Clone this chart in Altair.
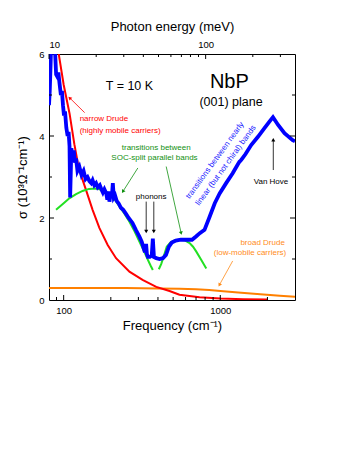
import math
import altair as alt
import pandas as pd

# ---------------- data ----------------
blue_freq = [80.6, 81.5, 82.3, 83.3, 85.5, 87.5, 88.5, 89.5, 91, 92.5, 94, 96, 97.5, 99,
             100.5, 102, 104, 106, 107.5, 109, 110, 111, 112, 114, 116, 118, 120, 122.5,
             126, 130, 134, 138, 142, 146, 150, 153, 157, 161, 165, 170, 174, 178, 182,
             187, 190, 193, 196, 200, 203, 206, 209, 213, 218, 225, 232, 240, 250, 260,
             275, 290, 304, 315, 328, 333, 336, 340, 345, 355, 365, 371, 377, 390, 410,
             430, 450, 470, 490, 520, 560, 610, 660, 700, 740, 793, 855, 922, 991, 1090,
             1200, 1290, 1325, 1350, 1380, 1450, 1575, 1740, 1915, 2060, 2170, 2340, 2570,
             2900, 3000]
blue_sigma = [4.75, 5.1, 5.6, 6.3, 6.4, 6.3, 5.9, 5.5, 5.45, 5.55, 5.3, 5.0, 5.1, 4.75,
              4.5, 4.6, 4.2, 4.0, 4.1, 3.75, 2.5, 3.1, 3.7, 3.5, 3.65, 3.35, 3.45, 3.15,
              3.25, 3.05, 3.15, 2.95, 3.0, 2.9, 2.85, 2.92, 2.8, 2.85, 2.75, 2.8, 2.7, 2.62, 2.7,
              2.6, 2.45, 2.65, 2.4, 2.6, 2.5, 2.85, 2.5, 2.55, 2.42, 2.35, 2.25, 2.2, 2.1, 2.0,
              1.88, 1.7, 1.55, 1.42, 1.2, 1.2, 1.37, 1.12, 1.05, 1.05, 1.08, 1.5, 1.05, 1.02, 1.0,
              1.02, 1.1, 1.3, 1.4, 1.45, 1.47, 1.47, 1.47, 1.55, 1.63, 1.71, 2.03, 2.36, 2.6, 2.85,
              3.09, 3.3, 3.37, 3.4, 3.45, 3.56, 3.78, 3.98, 4.19, 4.35, 4.46, 4.27, 4.07,
              3.9, 3.87]

red_freq = [93, 100, 109, 117, 125, 139, 153, 169, 191, 216, 263, 319, 390, 474, 549, 737,
            1000, 1400, 2000]
red_sigma = [6.0, 5.25, 4.55, 3.8, 3.2, 2.68, 2.2, 1.76, 1.34, 1.02, 0.69, 0.49, 0.32, 0.22,
             0.13, 0.07, 0.035, 0.02, 0.01]

green1_freq = [89.4, 100, 108.7, 120, 132, 145, 161, 178, 196, 210, 227, 245, 263, 283, 305,
               325, 345, 360, 371]
green1_sigma = [2.2, 2.36, 2.48, 2.58, 2.66, 2.71, 2.72, 2.68, 2.6, 2.47, 2.28, 2.1, 1.91,
                1.68, 1.42, 1.2, 0.98, 0.83, 0.73]

green2_freq = [405, 420, 440, 455, 480, 510, 549, 590, 637, 670, 703, 755, 814]
green2_sigma = [0.75, 0.88, 1.12, 1.3, 1.4, 1.45, 1.47, 1.46, 1.39, 1.3, 1.18, 0.98, 0.77]

orange_freq = [80.6, 150, 250, 400, 550, 700, 850, 1000, 1300, 1800, 2400, 3000]
orange_sigma = [0.29, 0.29, 0.29, 0.28, 0.275, 0.26, 0.245, 0.22, 0.185, 0.14, 0.105, 0.08]

freq_major_ticks = [100, 1000]
freq_minor_ticks = [90, 200, 300, 400, 500, 600, 700, 800, 900, 2000]
mev_major_ticks = [10, 100]
mev_minor_ticks = [20, 30, 40, 50, 60, 70, 80, 90, 200, 300]
sigma_major_ticks = [2, 4]
sigma_minor_ticks = [1, 3, 5]
sigma_label_values = [0, 2, 4, 6]
CM_PER_MEV = 8.0655

# annotations (data units: frequency cm^-1, sigma)
black_text = ["T = 10 K"]
black_text_f = [263]
black_text_s = [5.23]

nbp_text = ["NbP"]
nbp_f = [1143]
nbp_s = [5.32]

plane_text = ["(001) plane"]
plane_f = [1172]
plane_s = [4.84]

red_text = ["narrow Drude", "(highly mobile carriers)"]
red_text_f = [126.5, 126.5]
red_text_s = [4.42, 4.13]

green_text = ["transitions between", "SOC-split parallel bands"]
green_text_f = [390, 380]
green_text_s = [3.70, 3.475]

small_black_text = ["phonons", "Van Hove"]
small_black_f = [362, 2108]
small_black_s = [2.52, 2.89]

orange_text = ["broad Drude", "(low-mobile carriers)"]
orange_text_f = [1864, 1548]
orange_text_s = [1.40, 1.14]

blue_text = ["transitions between nearly", "linear (but not chiral) bands"]
blue_text_f = [928, 1089]
blue_text_s = [3.40, 3.28]

# arrows: start (f1, s1) -> tip (f2, s2)
red_arrow = [(136.1, 4.57, 109.2, 4.93)]
green_arrows = [(297.6, 3.22, 238.8, 2.645), (451.5, 3.255, 562.6, 1.63)]
black_arrows = [(336.5, 2.40, 336.5, 1.67), (376.3, 2.40, 376.3, 1.67),
                (2180, 3.17, 2180, 3.91)]
orange_arrow = [(1200, 0.952, 987, 0.366)]

# ---------------- chart ----------------
W, H = 246, 246
X_MIN, X_MAX = 80.6, 3000
Y_MAX = 6
FONT = "Liberation Sans"

xs = alt.Scale(type="log", domain=[X_MIN, X_MAX], nice=False)
ys = alt.Scale(domain=[0, Y_MAX], nice=False)


def line_layer(fr, sg, color, width, axis_x=None, axis_y=None):
    df = pd.DataFrame({"f": fr, "s": sg, "i": list(range(len(fr)))})
    return alt.Chart(df).mark_line(color=color, strokeWidth=width, clip=True).encode(
        x=alt.X("f:Q", scale=xs, axis=axis_x),
        y=alt.Y("s:Q", scale=ys, axis=axis_y),
        order="i:Q",
    )


bottom_axis = alt.Axis(values=freq_major_ticks, ticks=False, domain=False, grid=False,
                       labelFontSize=9.5, labelPadding=5, title="Frequency (cm⁻¹)",
                       titleFontSize=13, titlePadding=5, format="d")
left_axis = alt.Axis(values=sigma_label_values, ticks=False, domain=False, grid=False,
                     labelFontSize=9.5, labelPadding=5, title="σ (10³Ω⁻¹cm⁻¹)",
                     titleFontSize=13, titlePadding=9)

orange = line_layer(orange_freq, orange_sigma, "#ff8000", 2, bottom_axis, left_axis)
red = line_layer(red_freq, red_sigma, "#ff0000", 2)
green1 = line_layer(green1_freq, green1_sigma, "#22e022", 2)
green2 = line_layer(green2_freq, green2_sigma, "#22e022", 2)
blue = line_layer(blue_freq, blue_sigma, "#0000ff", 3.8)


def xticks(values, length, top=False, axis=None):
    df = pd.DataFrame({"f": values})
    if top:
        y1, y2 = alt.value(0), alt.value(length)
    else:
        y1, y2 = alt.value(H), alt.value(H - length)
    return alt.Chart(df).mark_rule(color="black", strokeWidth=1).encode(
        x=alt.X("f:Q", scale=xs, axis=axis), y=y1, y2=y2)


def yticks(values, length, right=False):
    df = pd.DataFrame({"s": values})
    if right:
        x1, x2 = alt.value(W), alt.value(W - length)
    else:
        x1, x2 = alt.value(0), alt.value(length)
    return alt.Chart(df).mark_rule(color="black", strokeWidth=1).encode(
        y=alt.Y("s:Q", scale=ys, axis=None), x=x1, x2=x2)


top_axis = alt.Axis(orient="top", values=[v * CM_PER_MEV for v in mev_major_ticks],
                    labelExpr="format(datum.value / 8.0655, '.0f')", ticks=False,
                    domain=False, grid=False, labelFontSize=9.5, labelPadding=5,
                    title="Photon energy (meV)", titleFontSize=13, titlePadding=6)

tick_layers = [
    xticks(freq_major_ticks, 5),
    xticks(freq_minor_ticks, 3),
    xticks([v * CM_PER_MEV for v in mev_major_ticks], 5, top=True, axis=top_axis),
    xticks([v * CM_PER_MEV for v in mev_minor_ticks], 3, top=True),
    yticks(sigma_major_ticks, 5),
    yticks(sigma_minor_ticks, 3),
    yticks(sigma_major_ticks, 5, right=True),
    yticks(sigma_minor_ticks, 3, right=True),
]


def text_layer(texts, fr, sg, color, size, align="center", angle=0):
    df = pd.DataFrame({"t": texts, "f": fr, "s": sg})
    kw = dict(color=color, fontSize=size, align=align, baseline="middle", font=FONT)
    if angle:
        kw["angle"] = angle
    return alt.Chart(df).mark_text(**kw).encode(
        x=alt.X("f:Q", scale=xs, axis=None),
        y=alt.Y("s:Q", scale=ys, axis=None),
        text="t:N")


texts = [
    text_layer(black_text, black_text_f, black_text_s, "black", 12.5),
    text_layer(nbp_text, nbp_f, nbp_s, "black", 20),
    text_layer(plane_text, plane_f, plane_s, "black", 12.5),
    text_layer(red_text, red_text_f, red_text_s, "#ff0000", 8, align="left"),
    text_layer(green_text, green_text_f, green_text_s, "#109010", 8),
    text_layer(small_black_text, small_black_f, small_black_s, "black", 8),
    text_layer(orange_text, orange_text_f, orange_text_s, "#ff8c1a", 8),
    text_layer(blue_text, blue_text_f, blue_text_s, "#2222ff", 8, angle=306),
]

PPD = W / math.log10(X_MAX / X_MIN)
PPU = H / Y_MAX


def arrow_layers(arrows, color):
    rows = []
    for f1, s1, f2, s2 in arrows:
        dx = PPD * math.log10(f2 / f1)
        dy = -(s2 - s1) * PPU
        ang = math.degrees(math.atan2(dx, -dy)) % 360
        rows.append({"f1": f1, "s1": s1, "f2": f2, "s2": s2, "a": ang})
    df = pd.DataFrame(rows)
    shaft = alt.Chart(df).mark_rule(color=color, strokeWidth=0.8).encode(
        x=alt.X("f1:Q", scale=xs, axis=None), x2="f2:Q",
        y=alt.Y("s1:Q", scale=ys, axis=None), y2="s2:Q")
    head = alt.Chart(df).mark_point(shape="triangle-up", filled=True, color=color,
                                    size=16, opacity=1).encode(
        x=alt.X("f2:Q", scale=xs, axis=None),
        y=alt.Y("s2:Q", scale=ys, axis=None),
        angle=alt.Angle("a:Q", scale=None))
    return [shaft, head]


arrows = (arrow_layers(red_arrow, "#ff0000") + arrow_layers(green_arrows, "#109010")
          + arrow_layers(black_arrows, "black") + arrow_layers(orange_arrow, "#ff8c1a"))

chart = alt.layer(orange, red, green1, green2, blue, *tick_layers, *texts, *arrows).resolve_axis(
    x="independent", y="independent"
).properties(
    width=W, height=H,
    autosize=alt.AutoSizeParams(type="none"),
    padding={"left": 41, "top": 46, "right": 20, "bottom": 60},
    background="white",
).configure_view(
    stroke="black", strokeWidth=1
).configure_axis(
    labelFont=FONT, titleFont=FONT, labelColor="black", titleColor="black",
    titleFontWeight="normal"
)

chart.save("out.html", embed_options={"renderer": "svg", "actions": False})
